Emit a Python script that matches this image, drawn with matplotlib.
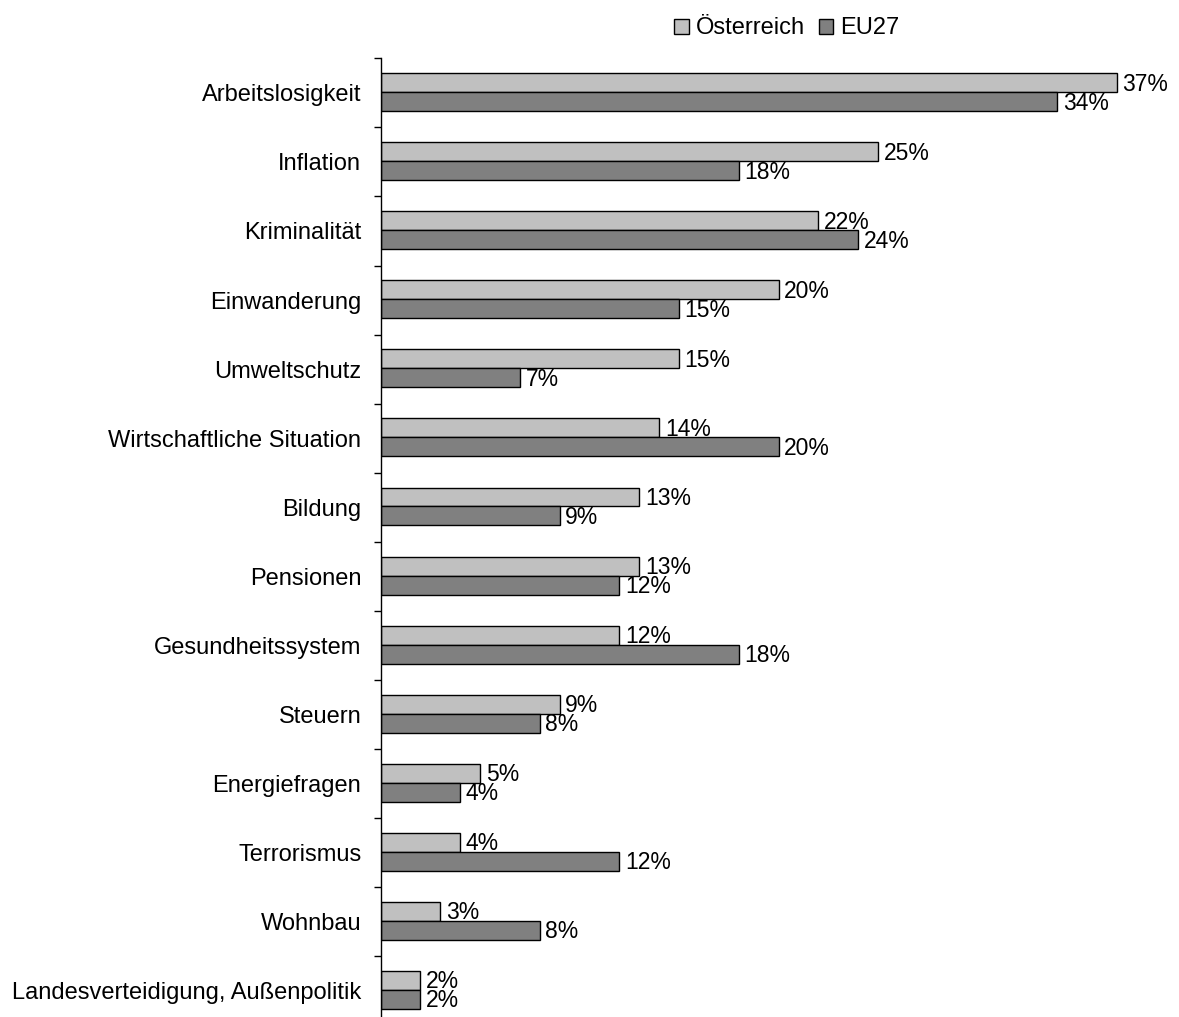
import matplotlib.pyplot as plt
import numpy as np

plt.rcParams['font.family'] = ['Liberation Sans', 'DejaVu Sans']

categories = ['Arbeitslosigkeit', 'Inflation', 'Kriminalität', 'Einwanderung',
              'Umweltschutz', 'Wirtschaftliche Situation', 'Bildung', 'Pensionen',
              'Gesundheitssystem', 'Steuern', 'Energiefragen', 'Terrorismus',
              'Wohnbau', 'Landesverteidigung, Außenpolitik']
austria = [37, 25, 22, 20, 15, 14, 13, 13, 12, 9, 5, 4, 3, 2]
eu27 = [34, 18, 24, 15, 7, 20, 9, 12, 18, 8, 4, 12, 8, 2]
series_names = ['Österreich', 'EU27']

fig = plt.figure(figsize=(11.79, 10.17), dpi=100)
ax = fig.add_axes([0.3229, -0.0079, 0.675, 0.9505])

idx = np.arange(len(categories))
center = idx + 0.49
h = 0.275
b1 = ax.barh(center - h / 2, austria, height=h, color='#C0C0C0',
             edgecolor='black', linewidth=1, label=series_names[0])
b2 = ax.barh(center + h / 2, eu27, height=h, color='#808080',
             edgecolor='black', linewidth=1, label=series_names[1])

for bars, vals in ((b1, austria), (b2, eu27)):
    for bar, v in zip(bars, vals):
        ax.annotate(f'{v}%', (bar.get_width(), bar.get_y() + bar.get_height() / 2),
                    xytext=(4, -1), textcoords='offset points',
                    va='center', ha='left', fontsize=16.5)

ax.set_xlim(0, 40)
ax.set_ylim(len(categories), 0)

ax.set_yticks(idx + 0.5)
ax.set_yticklabels(categories, fontsize=17)
ax.tick_params(axis='y', which='major', length=0, pad=14)
ax.set_yticks(np.arange(len(categories) + 1), minor=True)
ax.tick_params(axis='y', which='minor', length=5, width=1, direction='out')

ax.set_xticks([])
for side in ('top', 'right', 'bottom'):
    ax.spines[side].set_visible(False)
ax.spines['left'].set_linewidth(1)

fig.legend(handles=[b1, b2], labels=series_names, loc='center',
           bbox_to_anchor=(0.6675, 0.972), ncol=2, frameon=False,
           fontsize=17, handlelength=0.6, handleheight=0.6,
           handletextpad=0.3, columnspacing=0.6, borderpad=0.2)

fig.savefig('out.png', dpi=100)
